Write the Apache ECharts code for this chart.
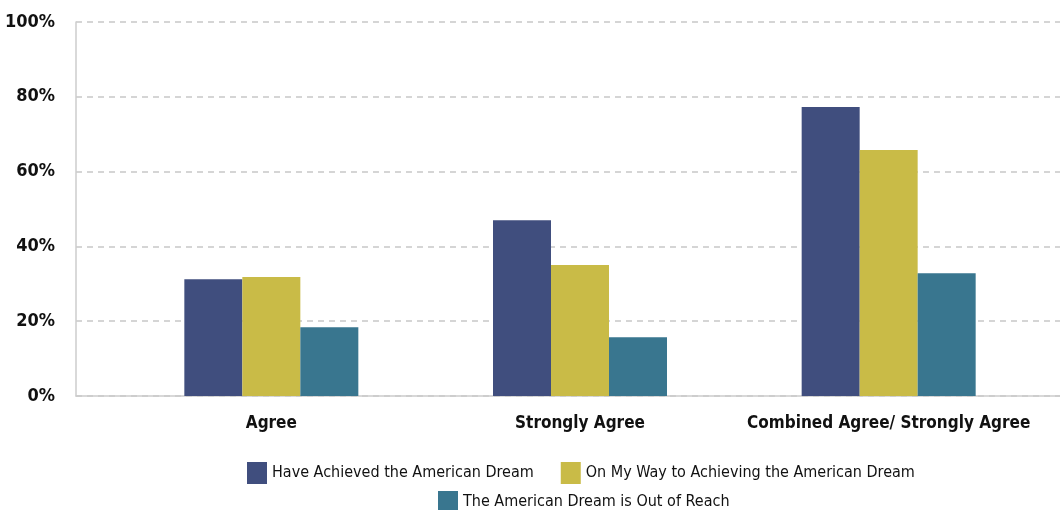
<!DOCTYPE html>
<html>
<head>
<meta charset="utf-8">
<script src="https://cdn.jsdelivr.net/npm/echarts@6/dist/echarts.min.js"></script>
<style>
  html, body { margin: 0; padding: 0; background: #fff; }
  #chart { width: 1060px; height: 510px; }
</style>
</head>
<body>
<div id="chart"></div>
<script>
// data
const categories = ["Agree", "Strongly Agree", "Combined Agree/ Strongly Agree"];
const seriesNames = [
  "Have Achieved the American Dream",
  "On My Way to Achieving the American Dream",
  "The American Dream is Out of Reach"
];
const achieved = [31.2, 47.0, 77.3];
const onMyWay = [31.8, 35.0, 65.8];
const outOfReach = [18.4, 15.7, 32.8];
const yTicks = [0, 20, 40, 60, 80, 100];

const font = "'Liberation Sans Narrow', 'DejaVu Sans Condensed', 'Roboto Condensed', sans-serif";
const colors = ["#404e7e", "#c9bb47", "#39768f"];
const values = [achieved, onMyWay, outOfReach];

let seriesData = [];
for (let i = 0; i < values.length; i++) {
  seriesData.push({
    name: seriesNames[i],
    type: "bar",
    xAxisIndex: 1,
    yAxisIndex: 1,
    barWidth: 58,
    barGap: "0%",
    itemStyle: { color: colors[i] },
    data: values[i]
  });
}

let option = {
  animation: false,
  textStyle: { fontFamily: font },
  legend: [
    {
      data: [seriesNames[0], seriesNames[1]],
      top: 457,
      left: 242,
      icon: "rect",
      itemWidth: 20,
      itemHeight: 22,
      itemGap: 27,
      textStyle: { fontFamily: font, fontSize: 16, color: "#111" }
    },
    {
      data: [seriesNames[2]],
      top: 486,
      left: 433,
      icon: "rect",
      itemWidth: 20,
      itemHeight: 22,
      textStyle: { fontFamily: font, fontSize: 16, color: "#111" }
    }
  ],
  grid: [
    { left: 76, right: 0, top: 22, bottom: 114 },
    { left: 117, right: 17, top: 22, bottom: 114 }
  ],
  xAxis: [
    {
      // background axis: only the baseline
      gridIndex: 0,
      type: "value",
      min: 0,
      max: 1,
      axisLine: { show: true, onZero: false, lineStyle: { color: "#cccccc", width: 1.5 } },
      axisTick: { show: false },
      axisLabel: { show: false },
      splitLine: { show: false }
    },
    {
      gridIndex: 1,
      type: "category",
      data: categories,
      axisLine: { show: false },
      axisTick: { show: false },
      axisLabel: {
        interval: 0,
        margin: 19,
        fontFamily: font,
        fontSize: 17,
        fontWeight: "bold",
        color: "#111"
      }
    }
  ],
  yAxis: [
    {
      gridIndex: 0,
      type: "value",
      min: yTicks[0],
      max: yTicks[yTicks.length - 1],
      interval: 20,
      axisLine: { show: true, lineStyle: { color: "#cccccc", width: 1.5 } },
      axisTick: { show: false },
      axisLabel: {
        margin: 21,
        formatter: "{value}%",
        fontFamily: font,
        fontSize: 18,
        fontWeight: "bold",
        color: "#111"
      },
      splitLine: {
        show: true,
        lineStyle: { type: [6, 5], color: "#c8c8c8", width: 1.5 }
      }
    },
    {
      gridIndex: 1,
      type: "value",
      min: 0,
      max: 100,
      show: false
    }
  ],
  series: seriesData
};

let myChart = echarts.init(document.getElementById("chart"));
myChart.setOption(option);
</script>
</body>
</html>
